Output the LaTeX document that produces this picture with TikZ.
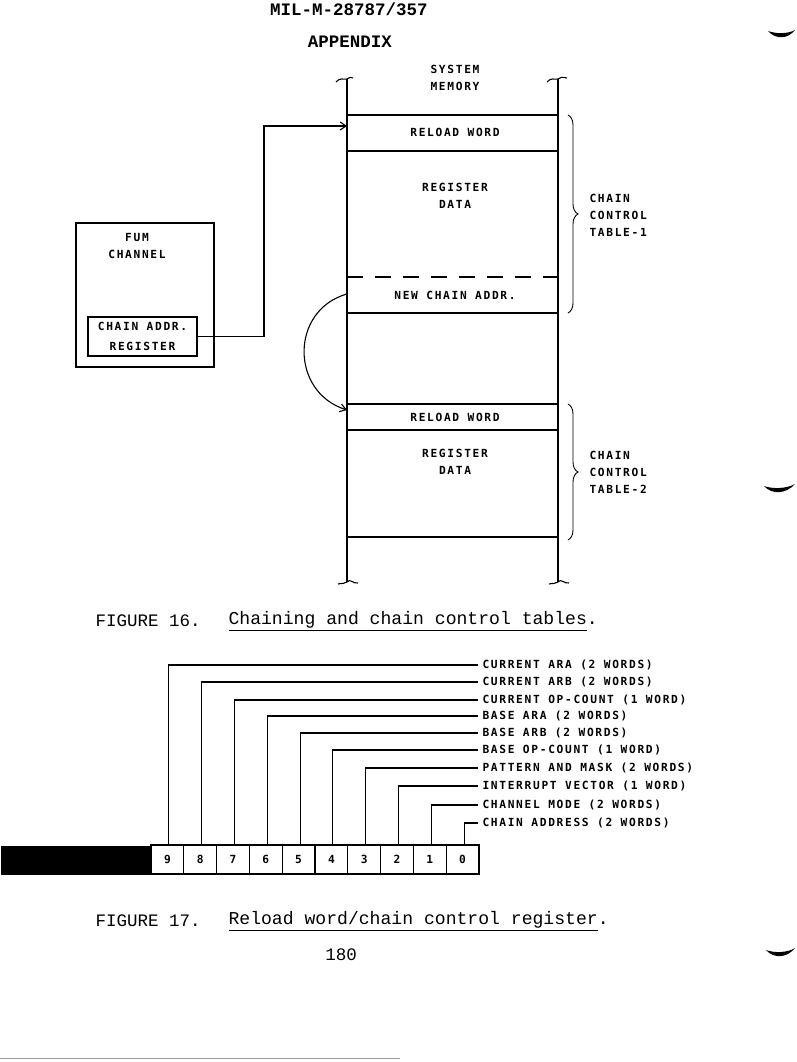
\documentclass[tikz,border=0pt]{standalone}
\usepackage{fontspec}
\setmonofont{Liberation Mono}
\newfontfamily\plotfont[LetterSpace=15]{DejaVu Sans Mono Bold}
\usepackage{xcolor}
\usepackage{tikz}
\usetikzlibrary{positioning, arrows.meta, calc, decorations.pathreplacing}
\definecolor{scangray}{HTML}{9A9A9A}

\tikzset{
  plottext/.style={font=\plotfont\fontsize{11.2}{17}\selectfont, inner sep=1pt, align=center},
  capfont/.style={font=\ttfamily\fontsize{17.5}{20}\selectfont, inner sep=0pt},
  tablebrace/.style={decorate, decoration={brace, amplitude=10pt}},
  bitcell/.style={draw, plottext, minimum width=32.8pt, minimum height=29pt, inner sep=0pt},
  chainarrow/.style={-{Straight Barb[length=6pt, width=8pt]}},
}

\begin{document}
\begin{tikzpicture}[x=1pt, y=-1pt, line width=1.1pt]
  \useasboundingbox (0,0) rectangle (796,1062);

  % page heading
  \node[capfont, font=\ttfamily\bfseries\fontsize{17.5}{20}\selectfont] (docno) at (349,9) {MIL-M-28787/357};
  \node[capfont, font=\ttfamily\bfseries\fontsize{17.5}{20}\selectfont] (appx) at (350,42) {APPENDIX};

  % ---- figure 16: system memory column
  \draw (347,79) -- (347,582);
  \draw (558,79) -- (558,582);
  \draw (336,82) .. controls (340,77) and (344,80) .. (347,79) .. controls (349,77) and (351,77) .. (353,78);
  \draw (547,82) .. controls (551,77) and (555,80) .. (558,79) .. controls (560,77) and (562,77) .. (567,78);
  \draw (338,584) .. controls (342,583) and (345,584) .. (347,582) .. controls (350,578) and (353,584) .. (358,583);
  \draw (549,584) .. controls (553,583) and (556,584) .. (558,582) .. controls (561,578) and (564,584) .. (569,583);

  \node[plottext] (sysmem) at (455,78) {SYSTEM\\MEMORY};

  \draw (347,115) -- (558,115);
  \draw (347,151) -- (558,151);
  \draw[dashed, dash pattern=on 16pt off 12pt] (347,277) -- (558,277);
  \draw (347,313) -- (558,313);
  \draw (347,404) -- (558,404);
  \draw (347,430) -- (558,430);
  \draw (347,537) -- (558,537);

  \node[plottext] (reload1) at (455,132) {RELOAD WORD};
  \node[plottext] (regdata1) at (455,196) {REGISTER\\DATA};
  \node[plottext] (newaddr) at (455,295) {NEW CHAIN ADDR.};
  \node[plottext] (reload2) at (455,417) {RELOAD WORD};
  \node[plottext] (regdata2) at (455,462) {REGISTER\\DATA};

  % chain control table braces
  \draw[tablebrace, line width=0.9pt] (568,115) -- (568,313);
  \draw[tablebrace, line width=0.9pt] (568,404) -- (568,540);
  \node[plottext, align=left, anchor=west] (cct1) at (588,215) {CHAIN\\CONTROL\\TABLE-1};
  \node[plottext, align=left, anchor=west] (cct2) at (588,472) {CHAIN\\CONTROL\\TABLE-2};

  % FUM channel
  \node[draw, minimum width=138pt, minimum height=144pt, inner sep=0pt] (fum) at (145,295) {};
  \node[plottext] (fumname) at (137,246) {FUM\\CHANNEL};
  \node[draw, plottext, minimum width=109pt, minimum height=39pt, font=\plotfont\fontsize{11.2}{20}\selectfont] (chainreg) at (142.5,336.5) {CHAIN ADDR.\\REGISTER};

  \coordinate (in1) at (347,126);
  \coordinate (out1) at (347,294);
  \coordinate (in2) at (347,410);
  \draw[chainarrow] (chainreg.east) -| (264,126) -- (in1);
  \draw[chainarrow] (out1) .. controls (290,310) and (290,392) .. (in2);

  \node[capfont, anchor=west] (fig16) at (95,621) {FIGURE 16.};
  \node[capfont, anchor=west, font=\ttfamily\fontsize{18.1}{20}\selectfont] (fig16t) at (228,621) {\underline{Chaining and chain control tables}.};

  % ---- figure 17: reload word / chain control register
  \node[fill=black, minimum width=151pt, minimum height=29pt, inner sep=0pt, anchor=north west] (unused) at (0,845) {};
  \foreach \b [count=\i from 0] in {9,8,...,0}
    \node[bitcell] (b\b) at ({167.4+32.8*\i},859.5) {\b};

  \foreach \b/\yy/\txt in {9/665/CURRENT ARA (2 WORDS), 8/682/CURRENT ARB (2 WORDS),
      7/700/CURRENT OP-COUNT (1 WORD), 6/716/BASE ARA (2 WORDS), 5/733/BASE ARB (2 WORDS),
      4/750/BASE OP-COUNT (1 WORD), 3/768/PATTERN AND MASK (2 WORDS),
      2/786/INTERRUPT VECTOR (1 WORD), 1/805/CHANNEL MODE (2 WORDS), 0/823/CHAIN ADDRESS (2 WORDS)}
  {
    \node[plottext, anchor=west, inner xsep=4pt] (f\b) at (478,\yy) {\txt};
    \draw ([xshift=1.5pt]b\b.north) |- (f\b.west);
  }

  \node[capfont, anchor=west] (fig17) at (95,921) {FIGURE 17.};
  \node[capfont, anchor=west, font=\ttfamily\fontsize{18.1}{20}\selectfont] (fig17t) at (228,921) {\underline{Reload word/chain control register}.};
  \node[capfont] (pageno) at (341,955) {180};

  % scan marks at the margin
  \fill (768,31) .. controls (776,40) and (788,39) .. (795,30) .. controls (788,34) and (776,34) .. (768,31);
  \fill (764,486) .. controls (772,495) and (786,494) .. (795,484) .. controls (786,489) and (772,489) .. (764,486);
  \fill (766,950) .. controls (774,959) and (787,958) .. (795,948) .. controls (787,953) and (774,953) .. (766,950);
  \draw[scangray, line width=0.5pt] (0,1058) -- (400,1058);
\end{tikzpicture}
\end{document}
